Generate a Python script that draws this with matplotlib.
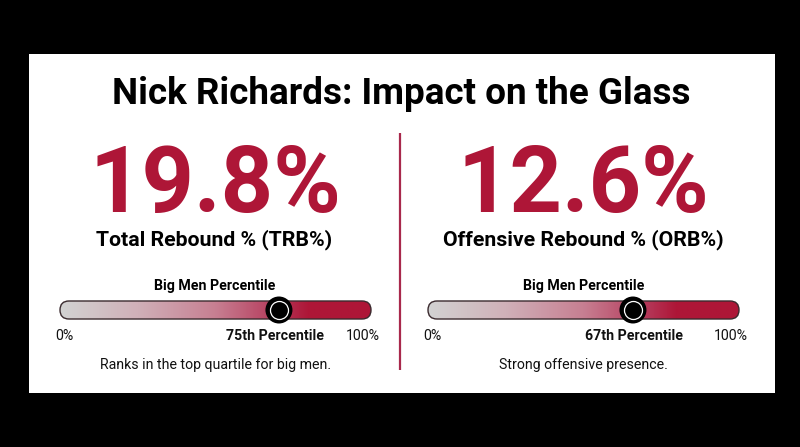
import numpy as np
import matplotlib
matplotlib.use('Agg')
import matplotlib.pyplot as plt
from matplotlib.colors import LinearSegmentedColormap
from matplotlib.patches import FancyBboxPatch, Rectangle

W, H = 800, 447
RED = '#ae1637'

title = 'Nick Richards: Impact on the Glass'
big_values = ['19.8%', '12.6%']
stat_names = ['Total Rebound % (TRB%)', 'Offensive Rebound % (ORB%)']
percentiles = [75, 67]
# where the marker sits on the 0-100 bar
marker_pos = [70.4, 65.9]
notes = ['Ranks in the top quartile for big men.', 'Strong offensive presence.']
bar_title = 'Big Men Percentile'
end_labels = ['0%', '100%']

plt.rcParams['font.family'] = ['Roboto', 'DejaVu Sans']

fig = plt.figure(figsize=(W / 100, H / 100), dpi=100, facecolor='black')


def px_axes(x0, y0, x1, y1):
    # axes from pixel box, y counted from the top of the image
    return fig.add_axes([x0 / W, 1 - y1 / H, (x1 - x0) / W, (y1 - y0) / H])


bg = px_axes(0, 0, W, H)
bg.set_xlim(0, W)
bg.set_ylim(H, 0)
bg.axis('off')
bg.add_patch(Rectangle((29, 54), 746, 339, fc='white', ec='none'))
bg.plot([400, 400], [133, 370], color='#a8284c', lw=1.6, solid_capstyle='butt')
bg.text(401, 94, title, ha='center', va='center', fontsize=26.6, fontweight='bold', color='black')

cmap = LinearSegmentedColormap.from_list(
    'pct', [(0, '#d2d2d2'), (0.25, '#d0b0b8'), (0.5, '#c77f92'), (0.7, '#b5395a'), (0.8, RED), (1, RED)])
centers = [215, 583.5]
bar_left = [60, 428]
bar_w = 311
label_x = [274.5, 634]
note_x = [215.5, 583]

for i in range(2):
    c = centers[i]
    bg.text(c, 212, big_values[i], ha='center', va='baseline', fontsize=66, fontweight='bold', color=RED)
    bg.text(c - 0.5, 240, stat_names[i], ha='center', va='center', fontsize=15.3, fontweight='bold', color='black')
    bg.text(c, 286, bar_title, ha='center', va='center', fontsize=10.2, fontweight='bold', color='black')
    bg.text(note_x[i], 365, notes[i], ha='center', va='center', fontsize=10.15, color='#111111')

    x0 = bar_left[i]
    ax = px_axes(x0 - 20, 291, x0 + bar_w + 20, 329)
    # 0-100 scale mapped onto the bar, with room left over for the marker
    pad = 20 / bar_w * 100
    ax.set_xlim(-pad, 100 + pad)
    ax.set_ylim(-1.055, 1.055)
    ax.axis('off')
    ax.patch.set_alpha(0)

    grad = np.linspace(0, 1, 256).reshape(1, -1)
    img = ax.imshow(grad, extent=[0, 100, -0.5, 0.5], aspect='auto', cmap=cmap, zorder=1)
    outline = FancyBboxPatch((0, -0.5), 100, 1.0, boxstyle='round,pad=0,rounding_size=2.89',
                             mutation_aspect=0.173, fc='none', ec='#3a2a2e', lw=1.0, zorder=2)
    ax.add_patch(outline)
    img.set_clip_path(outline)

    ax.scatter([marker_pos[i]], [0], s=378, c='black', edgecolors='none', zorder=3, clip_on=False)
    ax.scatter([marker_pos[i]], [0], s=168, c='black', edgecolors='white', linewidths=0.9, zorder=4, clip_on=False)

    bg.text(x0 + 4, 336, end_labels[0], ha='center', va='center', fontsize=10.2, color='#111111')
    bg.text(x0 + bar_w - 8, 336, end_labels[1], ha='center', va='center', fontsize=10.2, color='#111111')
    bg.text(label_x[i], 336, f'{percentiles[i]}th Percentile', ha='center', va='center',
            fontsize=10.2, fontweight='bold', color='#111111')

fig.savefig('out.png', dpi=100, facecolor='black')
